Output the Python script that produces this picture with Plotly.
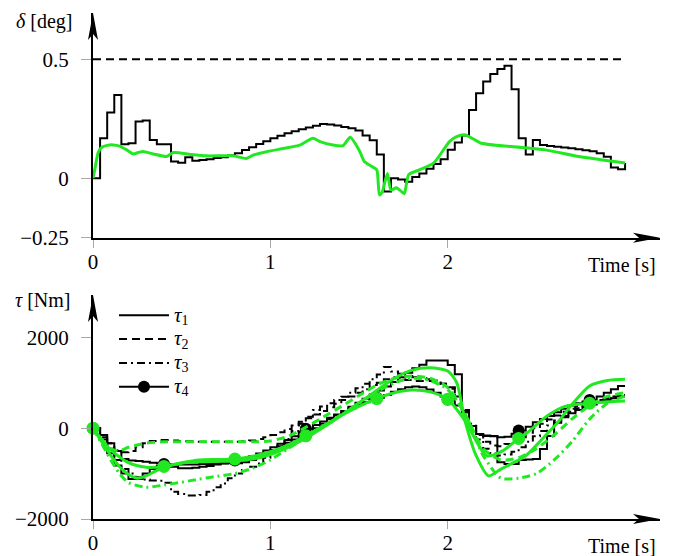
import plotly.graph_objects as go

FONT = "Liberation Serif, Times New Roman, serif"

# ---------------- data ----------------
# step (zero-order-hold) sample times, 0.04 s
t_step = [round(0.04 * i, 2) for i in range(76)]

delta_max = 0.5
delta_black = [0, 0.168, 0.276, 0.35, 0.143, 0.147, 0.238, 0.243, 0.161, 0.143,
               0.143, 0.07, 0.065, 0.088, 0.073, 0.077, 0.08, 0.085, 0.088, 0.095,
               0.105, 0.119, 0.13, 0.144, 0.155, 0.168, 0.178, 0.189, 0.197, 0.206,
               0.213, 0.22, 0.228, 0.226, 0.222, 0.215, 0.21, 0.2, 0.18, 0.16,
               0.10, -0.056, 0.0, -0.005, -0.015, 0.005, 0.02, 0.04, 0.06, 0.08,
               0.12, 0.15, 0.18, 0.287, 0.357, 0.406, 0.438, 0.459, 0.473, 0.374,
               0.168, 0.10, 0.161, 0.14, 0.135, 0.132, 0.129, 0.126, 0.122, 0.118,
               0.113, 0.105, 0.09, 0.045, 0.038, 0.064]

t_delta_green = [0, 0.011, 0.03, 0.05, 0.08, 0.114, 0.15, 0.19, 0.227, 0.255, 0.283, 0.34,
                 0.415, 0.453, 0.55, 0.64, 0.79, 0.865, 0.903, 0.978, 1.072, 1.166, 1.24,
                 1.28, 1.353, 1.41, 1.45, 1.5, 1.53, 1.57, 1.6, 1.615, 1.63, 1.66, 1.68,
                 1.71, 1.73, 1.755, 1.78, 1.84, 1.92, 2.01, 2.05, 2.1, 2.19, 2.36, 2.55,
                 2.74, 3.0]
delta_green = [0, 0.04, 0.11, 0.13, 0.138, 0.14, 0.135, 0.119, 0.102, 0.108, 0.112, 0.102,
               0.091, 0.108, 0.1, 0.094, 0.094, 0.083, 0.097, 0.111, 0.125, 0.139, 0.168,
               0.154, 0.14, 0.137, 0.172, 0.119, 0.07, 0.05, 0.035, -0.07, -0.06, 0.02, -0.05,
               -0.04, -0.05, -0.065, 0.015, 0.035, 0.063, 0.154, 0.175, 0.182, 0.147, 0.133,
               0.119, 0.091, 0.064]

tau1_black = [0, -150, -330, -500, -680, -710, -720, -740, -760, -780,
              -790, -800, -800, -800, -800, -790, -790, -780, -780, -770,
              -770, -750, -700, -640, -560, -480, -400, -320, -250, -170,
              -100, 0, 100, 200, 290, 380, 470, 560, 650, 740,
              830, 920, 1020, 1120, 1220, 1320, 1400, 1490, 1490, 1490,
              1390, 1190, 350, 50, -130, -170, -170, -750, -790, -790,
              -700, -690, -680, -460, -170, 120, 240, 330, 400, 460,
              520, 570, 620, 660, 700, 700]
tau2_black = [0, -150, -330, -480, -530, -500, -420, -330, -280, -260,
              -260, -270, -280, -290, -300, -300, -300, -300, -300, -300,
              -300, -290, -270, -240, -200, -150, -90, -20, 60, 140,
              220, 300, 380, 460, 540, 620, 700, 780, 860, 950,
              1000, 1080, 1120, 1100, 1060, 1040, 1040, 1040, 1020, 980,
              900, 700, 400, 100, -150, -300, -380, -400, -350, -280,
              -200, -100, 0, 100, 190, 280, 360, 430, 490, 540,
              580, 620, 660, 700, 730, 730]
tau3_black = [0, -200, -450, -700, -900, -1000, -1080, -1130, -1150, -1160,
              -1200, -1400, -1450, -1480, -1480, -1470, -1400, -1300, -1220, -1100,
              -1000, -920, -850, -780, -650, -520, -380, -240, -60, 100,
              250, 400, 480, 550, 620, 690, 780, 880, 980, 1080,
              1180, 1350, 1250, 1200, 1150, 1120, 1100, 1080, 1050, 980,
              870, 650, 350, 50, -250, -450, -560, -600, -580, -520,
              -420, -300, -180, -60, 60, 170, 270, 360, 440, 510,
              570, 620, 660, 690, 720, 720]
tau4_black = [0, -250, -550, -820, -1000, -1120, -1120, -1000, -900, -830,
              -790, -850, -880, -880, -870, -850, -830, -800, -770, -740,
              -710, -670, -620, -560, -490, -420, -340, -260, -180, -90,
              -10, 70, 150, 230, 300, 370, 440, 510, 570, 620,
              670, 730, 800, 860, 900, 920, 900, 850, 780, 700,
              630, 500, 380, 50, -130, -160, -180, -200, -190, -120,
              -50, 30, 130, 200, 270, 350, 430, 500, 550, 590,
              620, 700, 780, 860, 930, 930]

t_g1 = [0, 0.05, 0.1, 0.15, 0.2, 0.25, 0.3, 0.35, 0.4, 0.5, 0.6, 0.7, 0.8, 0.9, 1.0, 1.1,
        1.2, 1.3, 1.4, 1.5, 1.6, 1.7, 1.8, 1.9, 2.0, 2.05, 2.1, 2.16, 2.23, 2.3, 2.44, 2.53,
        2.62, 2.7, 2.8, 2.9, 3.0]
tau1_green = [0, -300, -600, -850, -1020, -1100, -1050, -950, -860, -770, -740, -730, -720,
              -680, -580, -420, -220, 20, 280, 560, 830, 1100, 1280, 1330, 1260, 1010, 130,
              -600, -1050, -900, -608, -250, 125, 520, 930, 1050, 1077]
t_g23 = [0, 0.05, 0.1, 0.15, 0.2, 0.3, 0.4, 0.5, 0.6, 0.7, 0.8, 0.9, 1.0, 1.1, 1.2, 1.3, 1.4,
         1.5, 1.6, 1.7, 1.8, 1.9, 2.0, 2.1, 2.2, 2.3, 2.4, 2.5, 2.6, 2.7, 2.8, 2.9, 3.0]
tau2_green = [0, -250, -450, -500, -420, -330, -300, -300, -300, -300, -300, -300, -280, -180,
              20, 250, 480, 720, 950, 1100, 1150, 1100, 900, 300, -450, -700, -650, -450,
              -150, 200, 500, 700, 780]
tau3_green = [0, -350, -700, -1000, -1200, -1300, -1250, -1190, -1120, -1060, -1000, -880,
              -700, -450, -200, 50, 300, 550, 800, 1000, 1100, 1050, 850, 300, -600, -1100,
              -1100, -1000, -700, -300, 200, 550, 710]
t_g4 = [0, 0.05, 0.1, 0.2, 0.3, 0.4, 0.5, 0.6, 0.7, 0.8, 0.9, 1.0, 1.1, 1.2, 1.3, 1.4, 1.5,
        1.6, 1.7, 1.8, 1.9, 2.0, 2.1, 2.22, 2.31, 2.4, 2.45, 2.56, 2.67, 2.8, 2.9, 3.0]
tau4_green = [0, -250, -480, -760, -860, -842, -760, -700, -690, -681, -620, -520, -370, -169,
              60, 280, 480, 652, 780, 840, 800, 637, 150, -608, -498, -227, -95, 271, 491,
              549, 580, 600]
marker_times = [0, 0.4, 0.8, 1.2, 1.6, 2.0, 2.4, 2.8]

x_ticks = [0, 1, 2]
x_ticktext = ["0", "1", "2"]
delta_ticks = [-0.25, 0, 0.5]
delta_ticktext = ["\u22120.25", "0", "0.5"]
tau_ticks = [-2000, 0, 2000]
tau_ticktext = ["\u22122000", "0", "2000"]
legend_names = ["<span style='font-size:21px'><i>\u03c4</i></span><sub><span style='font-size:14px'>%d</span></sub>" % k
                for k in (1, 2, 3, 4)]

# ---------------- styles ----------------
BLACK = "black"
GREEN = "#22e822"
DASH = "8px,5px"
DASHDOT = "8px,4px,2px,4px"
GW = 3
BW = 2

fig = go.Figure()

# top panel
fig.add_trace(go.Scatter(x=[0, 3.0], y=[delta_max, delta_max], mode="lines",
                         line=dict(color=BLACK, width=BW, dash=DASH),
                         xaxis="x", yaxis="y", showlegend=False))
fig.add_trace(go.Scatter(x=t_step, y=delta_black, mode="lines",
                         line=dict(color=BLACK, width=BW, shape="hv"),
                         xaxis="x", yaxis="y", showlegend=False))
fig.add_trace(go.Scatter(x=t_delta_green, y=delta_green, mode="lines",
                         line=dict(color=GREEN, width=GW, shape="spline", smoothing=0.6),
                         xaxis="x", yaxis="y", showlegend=False))

# bottom panel - black step signals
black_sets = [(tau1_black, "solid"), (tau2_black, DASH), (tau3_black, DASHDOT), (tau4_black, "solid")]
for i, (vals, dash) in enumerate(black_sets):
    fig.add_trace(go.Scatter(x=t_step, y=vals, mode="lines",
                             line=dict(color=BLACK, width=BW, dash=dash, shape="hv"),
                             xaxis="x2", yaxis="y2", name=legend_names[i],
                             showlegend=(i < 3), legendrank=i + 1))
mk_b = [i for i, t in enumerate(t_step) if t in marker_times]
fig.add_trace(go.Scatter(x=[t_step[i] for i in mk_b], y=[tau4_black[i] for i in mk_b],
                         mode="markers", marker=dict(color=BLACK, size=12),
                         cliponaxis=False, xaxis="x2", yaxis="y2", showlegend=False))
fig.add_trace(go.Scatter(x=[None], y=[None], mode="lines+markers",
                         line=dict(color=BLACK, width=BW), marker=dict(color=BLACK, size=12),
                         xaxis="x2", yaxis="y2", name=legend_names[3], legendrank=4))

# bottom panel - green smooth signals
green_sets = [(t_g1, tau1_green, "solid"), (t_g23, tau2_green, DASH),
              (t_g23, tau3_green, DASHDOT), (t_g4, tau4_green, "solid")]
for tt, vals, dash in green_sets:
    fig.add_trace(go.Scatter(x=tt, y=vals, mode="lines",
                             line=dict(color=GREEN, width=GW, dash=dash, shape="spline", smoothing=0.7),
                             xaxis="x2", yaxis="y2", showlegend=False))
mk_g = [i for i, t in enumerate(t_g4) if t in marker_times]
fig.add_trace(go.Scatter(x=[t_g4[i] for i in mk_g], y=[tau4_green[i] for i in mk_g],
                         mode="markers", marker=dict(color=GREEN, size=13),
                         cliponaxis=False, xaxis="x2", yaxis="y2", showlegend=False))

# ---------------- axes ----------------
XR = [0, 3.197]
tickfont = dict(family=FONT, size=21, color="black")
common_x = dict(range=XR, showline=True, linewidth=2, linecolor="black", ticks="outside",
                ticklen=8, tickwidth=1, tickcolor="#a8a8a8", tickvals=x_ticks,
                ticktext=x_ticktext, tickfont=tickfont, showgrid=False, zeroline=False,
                ticklabelstandoff=-4, automargin=False)
common_y = dict(showline=True, linewidth=2, linecolor="black", ticks="outside", ticklen=10,
                tickwidth=1, tickcolor="#a8a8a8", tickfont=tickfont, showgrid=False,
                zeroline=False, ticklabelstandoff=8, automargin=False)

fig.update_layout(
    width=675, height=556,
    margin=dict(l=93, r=15, t=13, b=37, autoexpand=False),
    paper_bgcolor="white", plot_bgcolor="white",
    xaxis=dict(domain=[0, 1], anchor="y", **common_x),
    yaxis=dict(domain=[0.556, 1], anchor="x", range=[-0.25, 0.6945],
               tickvals=delta_ticks, ticktext=delta_ticktext, **common_y),
    xaxis2=dict(domain=[0, 1], anchor="y2", **common_x),
    yaxis2=dict(domain=[0, 0.4427], anchor="x2", range=[-2000, 2934],
                tickvals=tau_ticks, ticktext=tau_ticktext, **common_y),
    legend=dict(x=0.037, y=0.436, xanchor="left", yanchor="top", itemwidth=50,
                bgcolor="rgba(0,0,0,0)", font=dict(family=FONT, size=16, color="black"),
                tracegroupgap=0),
)

# arrow heads on axes
def arrow(xref, yref, xa, ya, path):
    return dict(type="path", xref=xref, yref=yref, xsizemode="pixel", ysizemode="pixel",
                xanchor=xa, yanchor=ya, path=path, fillcolor="black", line=dict(width=0),
                layer="above")

HX = "M0,0 L-27,5 L-21,0 L-27,-5 Z"
HY = "M0,0 L5,-27 L0,-21 L-5,-27 Z"
fig.update_layout(shapes=[
    arrow("x domain", "y domain", 1, 0, HX),
    arrow("x domain", "y domain", 0, 1, HY),
    arrow("x2 domain", "y2 domain", 1, 0, HX),
    arrow("x2 domain", "y2 domain", 0, 1, HY),
])

lab = dict(family=FONT, size=20, color="black")
fig.update_layout(annotations=[
    dict(text="<i>\u03b4</i> [deg]", x=-0.086, y=0.984, xref="paper", yref="paper",
         showarrow=False, xanchor="center", yanchor="middle", font=lab),
    dict(text="<i>\u03c4</i> [Nm]", x=-0.088, y=0.433, xref="paper", yref="paper",
         showarrow=False, xanchor="center", yanchor="middle", font=lab),
    dict(text="Time [s]", x=0.933, y=0.5026, xref="paper", yref="paper",
         showarrow=False, xanchor="center", yanchor="middle", font=lab),
    dict(text="Time [s]", x=0.933, y=-0.0534, xref="paper", yref="paper",
         showarrow=False, xanchor="center", yanchor="middle", font=lab),
])

fig.write_html("out.html", config={"displayModeBar": False},
               post_script="document.body.style.margin='0';")
